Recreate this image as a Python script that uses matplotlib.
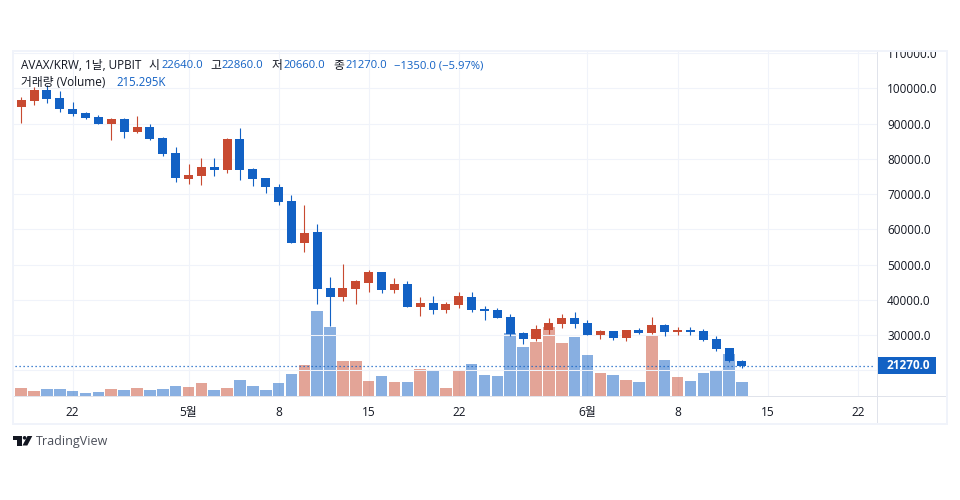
import matplotlib
matplotlib.use("Agg")
import matplotlib.pyplot as plt
import matplotlib.dates as mdates
from matplotlib.patches import Rectangle, Polygon, Circle
from matplotlib.transforms import Bbox
import pandas as pd

plt.rcParams['font.family'] = ['Open Sans', 'Noto Sans CJK KR', 'DejaVu Sans']

dates = pd.date_range('2022-04-17', periods=58)
opens = [98000, 94700, 96400, 99520, 97250, 94130, 93000, 91860, 89870, 91290, 87600, 89020, 85900, 81650,
         74270, 75120, 77660, 76820, 85600, 77100, 74550, 72000, 68030, 56100, 59230, 43350, 40800, 43060,
         44770, 47900, 42780, 44480, 38000, 39100, 37100, 38520, 40800, 37400, 37100, 35120, 30570, 28870,
         31440, 33150, 34840, 33430, 30020, 31150, 29170, 31440, 30570, 32840, 30860, 31440, 31150, 28870,
         26320, 22640]
highs = [98500, 97530, 100450, 100900, 99230, 96100, 93280, 92400, 91570, 91570, 92140, 89870, 86180, 83350,
         78520, 80200, 80200, 85900, 88730, 77380, 74550, 72850, 69720, 66900, 61500, 46450, 50150, 45600,
         48450, 47900, 46180, 45330, 40800, 41080, 39370, 42220, 42220, 38230, 37680, 35970, 30860, 32840,
         34840, 35970, 36530, 34270, 31440, 31150, 31440, 32000, 35120, 33150, 32270, 32270, 31720, 29720,
         26320, 22860]
lows = [94000, 90150, 95260, 95700, 93280, 92140, 91380, 89790, 85330, 85900, 87320, 85330, 80800, 73400,
        72850, 72570, 75120, 75970, 73980, 72290, 70300, 66900, 56000, 53560, 38800, 32600, 39650, 38800,
        42220, 41930, 41930, 38000, 35400, 35970, 36250, 37680, 36530, 34270, 34840, 29700, 27460, 28300,
        30290, 32000, 32000, 30000, 28870, 28580, 28300, 30290, 30290, 29700, 30020, 30020, 28300, 25470,
        22400, 20660]
closes = [95000, 96680, 99520, 96960, 94130, 92700, 91570, 89870, 91290, 87600, 89020, 85600, 81360, 74550,
          75400, 77660, 76820, 85600, 76820, 74270, 72000, 67750, 56100, 58950, 43060, 40800, 43350, 45330,
          47900, 42780, 44480, 38000, 39100, 37100, 38800, 41080, 37100, 36810, 34840, 30290, 28870, 31700,
          33430, 34840, 33150, 30000, 31150, 29170, 31440, 30570, 32840, 30860, 31440, 30860, 28580, 26040,
          22640, 21270]
# volume, thousands (colour follows candle direction)
volumes = [65, 135, 90, 120, 120, 90, 60, 75, 120, 105, 135, 105, 120, 165, 150, 210, 105, 135, 255, 165,
           105, 210, 345, 480, 1290, 1050, 540, 540, 240, 315, 225, 225, 420, 390, 135, 390, 495, 330, 315,
           960, 750, 825, 1050, 810, 900, 630, 360, 330, 255, 225, 915, 555, 300, 240, 360, 390, 645, 215.295]

price_ticks = [20000, 30000, 40000, 50000, 60000, 70000, 80000, 90000, 100000, 110000]
price_labels = ['', '30000.0', '40000.0', '50000.0', '60000.0', '70000.0', '80000.0', '90000.0', '100000.0', '110000.0']
time_ticks = ['2022-04-22', '2022-05-01', '2022-05-08', '2022-05-15', '2022-05-22', '2022-06-01', '2022-06-08',
              '2022-06-15', '2022-06-22']
time_labels = ['22', '5월', '8', '15', '22', '6월', '8', '15', '22']
last_price = 21270

UP, DOWN = '#c84a31', '#1261c4'
GRID, FRAME, SEP = '#f0f3fa', '#f0f3fa', '#e0e3eb'
TXT = '#131722'
W, H = 960, 500

fig = plt.figure(figsize=(9.6, 5), dpi=100, facecolor='white')
def fx(x): return x / W
def fy(y): return 1 - y / H

L, R, T, B = 13, 877, 51, 396.5
ax_v = fig.add_axes([fx(L), fy(B), fx(R - L), (B - T) / H])
ax = fig.add_axes([fx(L), fy(B), fx(R - L), (B - T) / H], sharex=ax_v)
ax.patch.set_visible(False)

x = mdates.date2num(dates)
x0 = mdates.date2num(pd.Timestamp('2022-04-18'))
ax_v.set_xlim(x0 - 8.2 / 12.87, x0 + (R - 21.2) / 12.87)
ax_v.set_ylim(0, (B - T) * 15.055)
ax.set_ylim(100000 - (B - 88.3) * 283.7, 100000 + (88.3 - T) * 283.7)

ups = [c >= o for o, c in zip(opens, closes)]
cols = [UP if u else DOWN for u in ups]
ax_v.bar(x, volumes, width=0.9, color=cols, alpha=0.5, linewidth=0, zorder=3)
ax.vlines(x, lows, highs, colors=cols, linewidth=0.8, zorder=3)
ax.bar(x, [abs(c - o) for o, c in zip(opens, closes)], bottom=[min(o, c) for o, c in zip(opens, closes)],
       width=0.70, color=cols, linewidth=0, zorder=4)

ax_v.set_yticks([])
ticks_x = mdates.date2num(pd.to_datetime(time_ticks))
ax_v.set_xticks(ticks_x)
ax_v.grid(axis='x', color=GRID, linewidth=0.75)
ax_v.set_axisbelow(True)
ax.tick_params(axis='x', labelbottom=False, length=0)
ax_v.tick_params(axis='x', length=0, pad=7, labelsize=8.6, labelcolor=TXT)
ax_v.set_xticklabels(time_labels)

ax.yaxis.tick_right()
ax.set_yticks(price_ticks)
ax.set_yticklabels(price_labels)
ax.tick_params(axis='y', length=0, pad=7.2, labelsize=8.5, labelcolor=TXT)
ax.grid(axis='y', color=GRID, linewidth=0.75)
ax.set_axisbelow(True)
clip = Bbox([[R, fy(424) * H], [947, fy(T) * H]])
for t in ax.get_yticklabels():
    t.set_clip_box(clip)
    t.set_clip_on(True)

for a in (ax, ax_v):
    for s in a.spines.values():
        s.set_visible(False)

ax.plot([x[0] - 2, x0 + (R - 23.5) / 12.87], [last_price, last_price], color=DOWN, linewidth=0.9,
        linestyle=(0, (1, 2.2)), zorder=5)

def frame_rect(x0_, y0_, x1_, y1_, **kw):
    fig.add_artist(Rectangle((fx(x0_), fy(y1_)), fx(x1_ - x0_), (y1_ - y0_) / H,
                             transform=fig.transFigure, linewidth=0, **kw))

# outer frame and separators
frame_rect(12, 50, 948, 52, color=FRAME)
frame_rect(12, 423, 948, 425, color=FRAME)
frame_rect(12, 50, 14, 425, color=FRAME)
frame_rect(945.5, 50, 948, 425, color=FRAME)
frame_rect(876.8, 52, 877.8, 423, color=SEP)
frame_rect(14, 396, 945.5, 397, color=SEP)

# last price tag
ax_tag = fig.add_axes([0, 0, 1, 1], facecolor='none')
ax_tag.set_xlim(0, W); ax_tag.set_ylim(H, 0); ax_tag.axis('off')
ax_tag.add_patch(Rectangle((877.3, 357), 58.5, 16.5, color=DOWN, linewidth=0))
ax_tag.text(908, 365.5, '21270.0', color='white', fontsize=8.5, fontweight='bold', ha='center', va='center')

# legend
gray, blue = '#131722', '#1261c4'
leg1 = [(21, 'AVAX/KRW, 1날, UPBIT', gray), (148, '시', gray), (161, '22640.0', blue), (210, '고', gray),
        (222, '22860.0', blue), (272, '저', gray), (284, '20660.0', blue), (333, '종', gray),
        (345, '21270.0', blue), (394, '−1350.0 (−5.97%)', blue)]
for px, s, c in leg1:
    size = 8.1 if c == blue else 8.5
    ax_tag.text(px, 65.5, s, color=c, fontsize=size, ha='left', va='center')
ax_tag.text(21, 82.5, '거래량 (Volume)', color=gray, fontsize=8.5, ha='left', va='center')
ax_tag.text(116, 82.5, '215.295K', color=blue, fontsize=8.3, ha='left', va='center')

# logo
logo = '#131722'
ax_tag.add_patch(Polygon([(13, 436), (21.7, 436), (21.7, 445.5), (17.2, 445.5), (17.2, 439.5), (13, 439.5)],
                         color=logo, linewidth=0))
ax_tag.add_patch(Circle((24.6, 437.8), 1.8, color=logo, linewidth=0))
ax_tag.add_patch(Polygon([(27.5, 436), (32.3, 436), (27.3, 445.5), (22.5, 445.5)], color=logo, linewidth=0))
ax_tag.text(36, 441.3, 'TradingView', color='#4a4e59', fontsize=9.0, ha='left', va='center')

fig.savefig('out.png', dpi=100)
